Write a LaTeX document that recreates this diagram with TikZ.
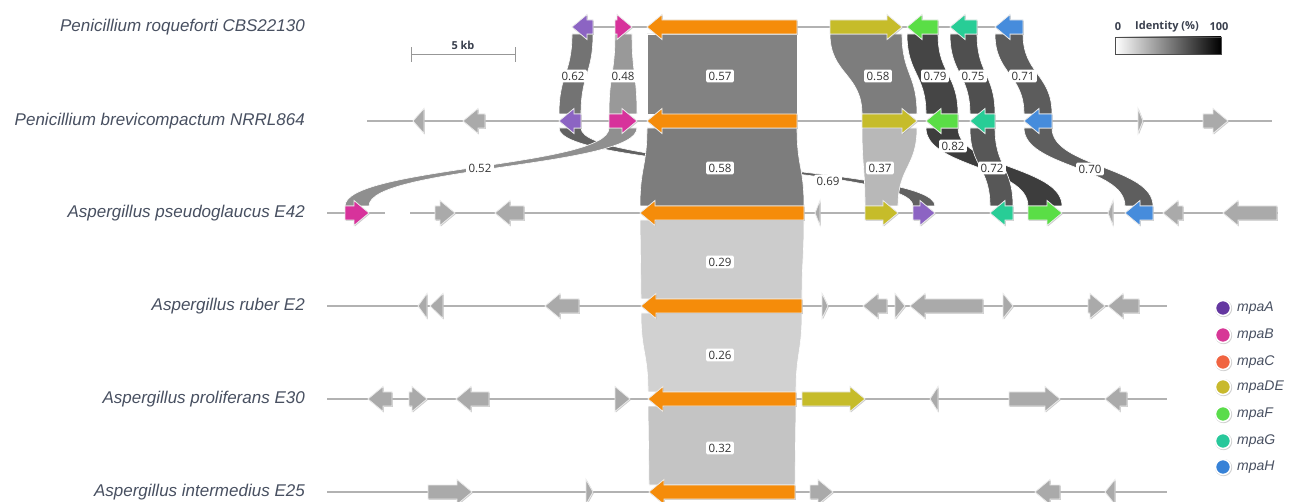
\documentclass[tikz,border=0pt]{standalone}
\usepackage{fontspec}
\setmainfont{Liberation Sans}
\newfontfamily\osans{Open Sans}
\usetikzlibrary{calc}
\pgfdeclarelayer{base}
\pgfdeclarelayer{lines}
\pgfdeclarelayer{ribs}
\pgfsetlayers{base,lines,ribs,main}
\definecolor{cA}{RGB}{140,100,195}
\definecolor{cB}{RGB}{215,50,155}
\definecolor{cC}{RGB}{245,140,10}
\definecolor{cDE}{RGB}{198,188,42}
\definecolor{cF}{RGB}{90,222,70}
\definecolor{cG}{RGB}{40,205,150}
\definecolor{cH}{RGB}{70,140,220}
\definecolor{cX}{RGB}{170,170,170}
\definecolor{lA}{RGB}{100,55,160}
\definecolor{lB}{RGB}{215,55,150}
\definecolor{lC}{RGB}{240,100,65}
\definecolor{lDE}{RGB}{200,185,45}
\definecolor{lF}{RGB}{90,220,75}
\definecolor{lG}{RGB}{40,200,155}
\definecolor{lH}{RGB}{55,130,215}
\definecolor{slate}{RGB}{72,80,97}
\definecolor{bbline}{RGB}{178,178,178}
\tikzset{
  gene/.style={draw=white!92!black, line width=0.8, line join=miter},
  gshade/.style={fill=black!40, opacity=0.5},
  bb/.style={draw=bbline, line width=1.3},
  species/.style={anchor=east, text=slate, font=\fontsize{17}{20}\selectfont\itshape, inner sep=0},
  rlab/.style={fill=white, rounded corners=1.5, inner xsep=2.5, inner ysep=2.2, text=black!80, font=\osans\fontsize{11.5}{13}\selectfont},
  legtext/.style={anchor=west, text=slate, font=\fontsize{14}{16}\selectfont\itshape, inner sep=0},
  toptext/.style={text=slate!80!black, font=\osans\bfseries\fontsize{11}{13}\selectfont, inner sep=0}
}
% left-pointing gene: name, y, x1, x2, colour
\newcommand\gL[5]{%
  \pgfmathsetmacro\hx{#3+min(15,#4-#3)}%
  \coordinate (#1) at ({(#3+#4)/2},#2);
  \coordinate (#1-tl) at (#3,#2-7); \coordinate (#1-tr) at (#4,#2-7);
  \coordinate (#1-bl) at (#3,#2+7); \coordinate (#1-br) at (#4,#2+7);
  \fill[gshade, shift={(0.9,0.9)}] (#3,#2) -- (\hx,#2-12.5) -- (\hx,#2-7) -- (#4,#2-7) -- (#4,#2+7) -- (\hx,#2+7) -- (\hx,#2+12.5) -- cycle;
  \filldraw[gene, fill=#5] (#3,#2) -- (\hx,#2-12.5) -- (\hx,#2-7) -- (#4,#2-7) -- (#4,#2+7) -- (\hx,#2+7) -- (\hx,#2+12.5) -- cycle;
}
% right-pointing gene
\newcommand\gR[5]{%
  \pgfmathsetmacro\hx{#4-min(15,#4-#3)}%
  \coordinate (#1) at ({(#3+#4)/2},#2);
  \coordinate (#1-tl) at (#3,#2-7); \coordinate (#1-tr) at (#4,#2-7);
  \coordinate (#1-bl) at (#3,#2+7); \coordinate (#1-br) at (#4,#2+7);
  \fill[gshade, shift={(0.9,0.9)}] (#4,#2) -- (\hx,#2-12.5) -- (\hx,#2-7) -- (#3,#2-7) -- (#3,#2+7) -- (\hx,#2+7) -- (\hx,#2+12.5) -- cycle;
  \filldraw[gene, fill=#5] (#4,#2) -- (\hx,#2-12.5) -- (\hx,#2-7) -- (#3,#2-7) -- (#3,#2+7) -- (\hx,#2+7) -- (\hx,#2+12.5) -- cycle;
}
% ribbon between upper gene #1 and lower gene #2 with identity #3
\newcommand\ribbon[3]{%
  \pgfmathtruncatemacro\bk{107*#3-11}%
  \coordinate (rm) at ($(#1-bl)!0.5!(#2-tl)$);
  \filldraw[fill=black!\bk, draw=white, line width=0.6]
    (#1-bl) .. controls (#1-bl |- rm) and (#2-tl |- rm) .. (#2-tl)
    -- (#2-tr) .. controls (#2-tr |- rm) and (#1-br |- rm) .. (#1-br) -- cycle;
}
\begin{document}
\begin{tikzpicture}[x=1pt,y=-1pt]
\useasboundingbox (0,0) rectangle (1293,502);
\begin{pgfonlayer}{base}
\fill[white] (0,0) rectangle (1293,502);
\end{pgfonlayer}

% ---------------- backbones
\coordinate (b1s) at (572,27);  \coordinate (b1e) at (1023,27);
\coordinate (b2s) at (367,121); \coordinate (b2e) at (1272,121);
\coordinate (b3s) at (327,213); \coordinate (b3m) at (385,213);
\coordinate (b3n) at (410,213); \coordinate (b3e) at (1278,213);
\coordinate (b4s) at (327,306); \coordinate (b4e) at (1167,306);
\coordinate (b5s) at (327,399); \coordinate (b5e) at (1167,399);
\coordinate (b6s) at (327,492); \coordinate (b6e) at (1167,492);
\begin{pgfonlayer}{lines}
\draw[bb] (b1s) -- (b1e);
\draw[bb] (b2s) -- (b2e);
\draw[bb] (b3s) -- (b3m);
\draw[bb] (b3n) -- (b3e);
\draw[bb] (b4s) -- (b4e);
\draw[bb] (b5s) -- (b5e);
\draw[bb] (b6s) -- (b6e);
\end{pgfonlayer}

% ---------------- genes row 1
\gL{r1a}{27}{572}{593}{cA}
\gR{r1b}{27}{615}{632}{cB}
\gL{r1c}{27}{647}{797}{cC}
\gR{r1de}{27}{830}{902}{cDE}
\gL{r1f}{27}{907}{938}{cF}
\gL{r1g}{27}{950}{977}{cG}
\gL{r1h}{27}{995}{1023}{cH}
% row 2
\gL{r2x1}{121}{413}{424}{cX}
\gL{r2x2}{121}{463}{485}{cX}
\gL{r2a}{121}{559}{581}{cA}
\gR{r2b}{121}{609}{637}{cB}
\gL{r2c}{121}{647}{797}{cC}
\gR{r2de}{121}{862}{917}{cDE}
\gL{r2f}{121}{926}{958}{cF}
\gL{r2g}{121}{970}{995}{cG}
\gL{r2h}{121}{1024}{1052}{cH}
\gR{r2x3}{121}{1138}{1143}{cX}
\gR{r2x4}{121}{1203}{1228}{cX}
% row 3
\gR{r3b}{213}{345}{369}{cB}
\gR{r3x1}{213}{435}{455}{cX}
\gL{r3x2}{213}{495}{524}{cX}
\gL{r3c}{213}{640}{804}{cC}
\gL{r3x3}{213}{815}{820}{cX}
\gR{r3de}{213}{865}{898}{cDE}
\gR{r3a}{213}{913}{935}{cA}
\gL{r3g}{213}{990}{1013}{cG}
\gR{r3f}{213}{1028}{1062}{cF}
\gL{r3x4}{213}{1108}{1113}{cX}
\gL{r3h}{213}{1125}{1153}{cH}
\gL{r3x5}{213}{1163}{1183}{cX}
\gL{r3x6}{213}{1223}{1277}{cX}
% row 4
\gL{r4x1}{306}{418}{427}{cX}
\gL{r4x2}{306}{430}{443}{cX}
\gL{r4x3}{306}{545}{579}{cX}
\gL{r4c}{306}{641}{802}{cC}
\gR{r4x4}{306}{822}{828}{cX}
\gL{r4x5}{306}{863}{887}{cX}
\gR{r4x6}{306}{895}{905}{cX}
\gL{r4x7}{306}{910}{983}{cX}
\gR{r4x8}{306}{1003}{1013}{cX}
\gR{r4x9}{306}{1088}{1105}{cX}
\gL{r4x10}{306}{1108}{1139}{cX}
% row 5
\gL{r5x1}{399}{368}{392}{cX}
\gR{r5x2}{399}{409}{427}{cX}
\gL{r5x3}{399}{456}{489}{cX}
\gR{r5x4}{399}{615}{630}{cX}
\gL{r5c}{399}{648}{796}{cC}
\gR{r5de}{399}{802}{865}{cDE}
\gL{r5x5}{399}{930}{938}{cX}
\gR{r5x6}{399}{1009}{1060}{cX}
\gL{r5x7}{399}{1105}{1127}{cX}
% row 6
\gR{r6x1}{492}{428}{472}{cX}
\gR{r6x2}{492}{586}{593}{cX}
\gL{r6c}{492}{649}{795}{cC}
\gR{r6x3}{492}{810}{833}{cX}
\gL{r6x4}{492}{1035}{1060}{cX}
\gL{r6x5}{492}{1105}{1115}{cX}

% ---------------- ribbons
\begin{pgfonlayer}{ribs}
\ribbon{r1a}{r2a}{0.62}
\ribbon{r1b}{r2b}{0.48}
\ribbon{r1c}{r2c}{0.57}
\ribbon{r1de}{r2de}{0.58}
\ribbon{r1f}{r2f}{0.79}
\ribbon{r1g}{r2g}{0.75}
\ribbon{r1h}{r2h}{0.71}
\ribbon{r2a}{r3a}{0.69}
\ribbon{r2b}{r3b}{0.52}
\ribbon{r2c}{r3c}{0.58}
\ribbon{r2de}{r3de}{0.37}
\ribbon{r2f}{r3f}{0.82}
\ribbon{r2g}{r3g}{0.72}
\ribbon{r2h}{r3h}{0.70}
\ribbon{r3c}{r4c}{0.29}
\ribbon{r4c}{r5c}{0.28}
\ribbon{r5c}{r6c}{0.32}
\end{pgfonlayer}

% ---------------- ribbon labels
\node[rlab] (l1) at (573,76) {0.62};
\node[rlab] (l2) at (623,76) {0.48};
\node[rlab] (l3) at (720,76) {0.57};
\node[rlab] (l4) at (878,76) {0.58};
\node[rlab] (l5) at (935,76) {0.79};
\node[rlab] (l6) at (973,76) {0.75};
\node[rlab] (l7) at (1023,76) {0.71};
\node[rlab] (l8) at (480,168) {0.52};
\node[rlab] (l9) at (720,168) {0.58};
\node[rlab] (l10) at (828,181) {0.69};
\node[rlab] (l11) at (880,168) {0.37};
\node[rlab] (l12) at (953,146) {0.82};
\node[rlab] (l13) at (992,168) {0.72};
\node[rlab] (l14) at (1090,169) {0.70};
\node[rlab] (l15) at (720,262) {0.29};
\node[rlab] (l16) at (720,355) {0.26};
\node[rlab] (l17) at (720,448) {0.32};

% ---------------- species names
\node[species] (s1) at (305,27) {Penicillium roqueforti CBS22130};
\node[species] (s2) at (305,121) {Penicillium brevicompactum NRRL864};
\node[species] (s3) at (305,213) {Aspergillus pseudoglaucus E42};
\node[species] (s4) at (305,306) {Aspergillus ruber E2};
\node[species] (s5) at (305,399) {Aspergillus proliferans E30};
\node[species] (s6) at (305,492) {Aspergillus intermedius E25};

% ---------------- scale bar
\coordinate (sbl) at (411,55); \coordinate (sbr) at (515,55);
\draw[bbline!85!black, line width=1] (sbl) -- (sbr);
\draw[bbline!85!black, line width=1] ($(sbl)+(0,-7.5)$) -- ($(sbl)+(0,7.5)$);
\draw[bbline!85!black, line width=1] ($(sbr)+(0,-7.5)$) -- ($(sbr)+(0,7.5)$);
\node[toptext] (sbt) at (463,45) {5 kb};

% ---------------- identity legend
\node[toptext] (id0) at (1118,27) {0};
\node[toptext] (idt) at (1167,27) {Identity (\%)};
\node[toptext] (id1) at (1219,27) {100};
\shade[left color=white, right color=black] (1115,37) rectangle (1221,54);
\draw[black!70, line width=0.8] (1115,37) rectangle (1221,54);

% ---------------- gene legend
\foreach \c/\t/\y [count=\i] in {lA/mpaA/308, lB/mpaB/335, lC/mpaC/362, lDE/mpaDE/387, lF/mpaF/414, lG/mpaG/441, lH/mpaH/467}{
  \fill[black!18] (1223.6,\y+0.6) circle (8.6);
  \node[circle, fill=\c, draw=white, line width=1.5, minimum size=15, inner sep=0] (lg\i) at (1223,\y) {};
  \node[legtext] (lt\i) at (1237,\y) {\t};
}
\end{tikzpicture}
\end{document}
